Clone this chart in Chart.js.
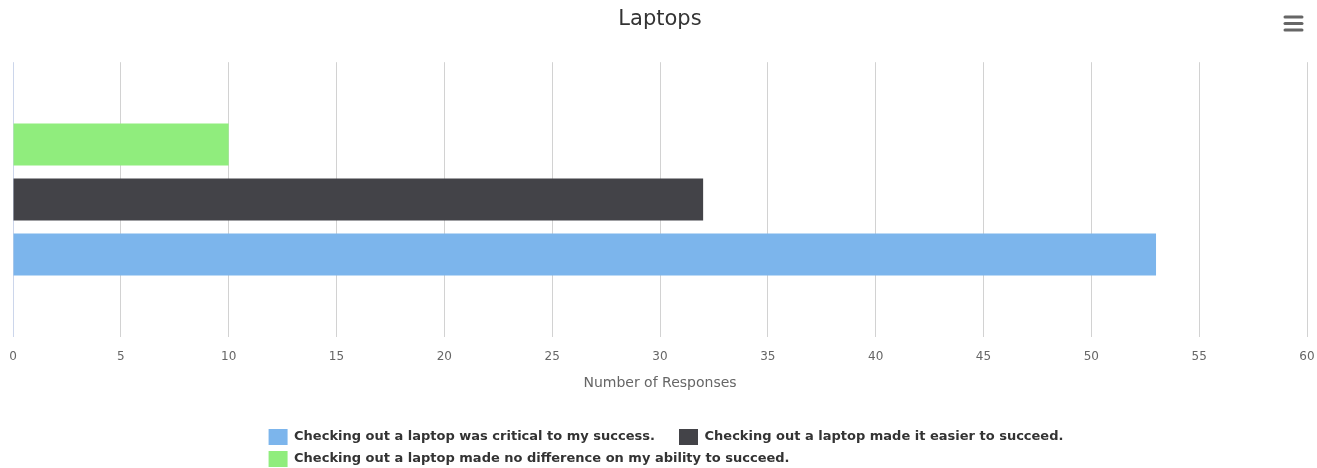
<!DOCTYPE html>
<html>
<head>
<meta charset="utf-8">
<script src="https://cdn.jsdelivr.net/npm/chart.js@4.4.1/dist/chart.umd.min.js"></script>
<style>
html,body{margin:0;padding:0;background:#fff;}
#wrap{width:1317px;height:468px;position:relative;}
</style>
</head>
<body>
<div id="wrap"><canvas id="c" width="1317" height="468"></canvas></div>
<script>
const chartTitle = 'Laptops';
const categories = ['Laptops'];
const seriesLabels = [
  'Checking out a laptop was critical to my success.',
  'Checking out a laptop made it easier to succeed.',
  'Checking out a laptop made no difference on my ability to succeed.'
];
const seriesValues = [53, 32, 10];
const seriesColors = ['#7cb5ec', '#434348', '#90ed7d'];
const xTicks = [0, 5, 10, 15, 20, 25, 30, 35, 40, 45, 50, 55, 60];
const xTitle = 'Number of Responses';

const FONT = "'DejaVu Sans', sans-serif";
const LEGEND_FONT = { family: FONT, size: 13, weight: 'bold' };
const TRAIL = '    ';

// Highcharts-like: first series drawn at the bottom
const datasets = seriesLabels.map((lab, i) => ({
  label: lab,
  data: [seriesValues[i]],
  backgroundColor: seriesColors[i],
  borderWidth: 0,
  categoryPercentage: 0.6,
  barPercentage: 0.764
})).reverse();

const legendAlign = {
  id: 'legendAlign',
  afterLayout(chart) {
    const lg = chart.legend;
    if (lg && lg.lineWidths && lg.lineWidths.length) {
      const ctx = chart.ctx;
      ctx.save();
      ctx.font = Chart.helpers.toFont(LEGEND_FONT).string;
      const tw = ctx.measureText(TRAIL).width;
      ctx.restore();
      const m = lg.lineWidths[0] - lg.options.labels.padding - tw - 6;
      lg.lineWidths = lg.lineWidths.map(() => m);
    }
  }
};

const menuIcon = {
  id: 'menuIcon',
  afterDraw(chart) {
    const ctx = chart.ctx;
    ctx.save();
    ctx.strokeStyle = '#666666';
    ctx.lineWidth = 3;
    ctx.lineCap = 'round';
    [17, 23.5, 30].forEach(y => {
      ctx.beginPath();
      ctx.moveTo(1285, y);
      ctx.lineTo(1302, y);
      ctx.stroke();
    });
    ctx.restore();
  }
};

new Chart(document.getElementById('c'), {
  type: 'bar',
  data: { labels: categories, datasets },
  options: {
    indexAxis: 'y',
    responsive: false,
    animation: false,
    devicePixelRatio: 1,
    layout: { padding: { left: 13, right: 10, top: 0, bottom: -9 } },
    scales: {
      y: { display: false },
      x: {
        min: xTicks[0],
        max: xTicks[xTicks.length - 1],
        afterBuildTicks(scale) { scale.ticks = xTicks.map(v => ({ value: v })); },
        grid: {
          color: ctx => (ctx.tick && ctx.tick.value === 0) ? '#ccd6eb' : '#d2d2d2',
          lineWidth: 1,
          drawTicks: true,
          tickLength: 13,
          tickColor: 'rgba(0,0,0,0)'
        },
        border: { display: false },
        ticks: {
          padding: 0,
          color: '#666666',
          font: { family: FONT, size: 12 },
          maxRotation: 0,
          autoSkip: false
        },
        title: {
          display: true,
          text: xTitle,
          color: '#666666',
          font: { family: FONT, size: 14 },
          padding: { top: 11, bottom: 31 }
        }
      }
    },
    plugins: {
      title: {
        display: true,
        text: chartTitle,
        color: '#333333',
        font: { family: FONT, size: 21, weight: 'normal' },
        padding: { top: 7, bottom: 30 }
      },
      legend: {
        display: true,
        position: 'bottom',
        reverse: true,
        labels: {
          color: '#333333',
          font: LEGEND_FONT,
          boxWidth: 19,
          boxHeight: 16,
          padding: 6,
          generateLabels(chart) {
            const items = Chart.defaults.plugins.legend.labels.generateLabels(chart);
            items.forEach(it => { it.text = it.text + TRAIL; it.lineWidth = 0; });
            return items;
          }
        }
      },
      tooltip: { enabled: false }
    }
  },
  plugins: [legendAlign, menuIcon]
});
</script>
</body>
</html>
